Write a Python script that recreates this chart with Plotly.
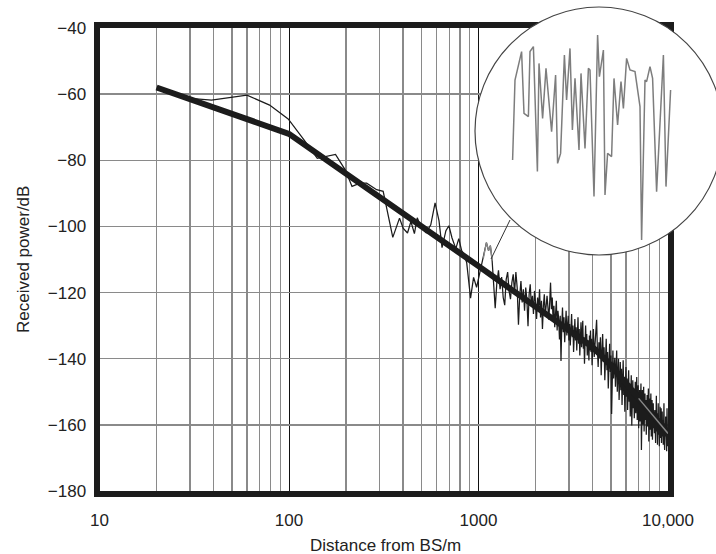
import plotly.graph_objects as go

# ---------------- data ----------------
# measured received power, near region (distance in m, power in dB)
near_dist = [20, 29, 39, 60, 79, 99, 120, 141, 176, 198, 215, 237, 257, 290, 314,
             353, 383, 400, 422, 440, 459, 475, 500, 529, 560, 590, 619, 642, 673,
             698, 725, 759, 787, 815, 840, 866, 908, 942, 977, 1023, 1062, 1101,
             1130, 1155, 1180, 1200]
near_db = [-58.5, -61.2, -61.8, -60.3, -63.3, -67.5, -73.8, -79.4, -78.2, -82.9,
           -87.9, -86.9, -86.9, -88.9, -89.4, -103.3, -97.5, -100.5, -102.0, -98.5,
           -102.2, -97.4, -100.5, -101.9, -99.5, -92.9, -98.3, -106.4, -101.3, -99.8,
           -103.5, -106.7, -103.7, -107.3, -108.5, -110.9, -121.7, -115.4, -118.4,
           -113.3, -109.5, -104.9, -107.3, -105.8, -110.3, -117.0]

# measured received power, 1225 m to 4000 m (25 m sample spacing)
far_dist_a = list(range(1225, 4001, 25))
far_db_a = [
    -124.7, -117.0, -113.3, -119.0, -115.3, -121.5, -123.8, -116.0, -113.8, -119.5,
    -122.0, -117.0, -114.5, -120.0, -113.8, -118.5, -129.7, -121.0, -116.5, -123.0,
    -119.0, -125.5, -118.5, -122.0, -130.2, -120.5, -117.5, -124.0, -121.0, -126.5,
    -119.5, -123.0, -128.0, -121.5, -125.0, -119.0, -127.5, -122.5, -131.0, -124.0,
    -120.5, -127.0, -122.0, -121.0, -124.5, -128.2, -123.0, -117.0, -125.0, -121.5,
    -128.5, -124.0, -130.5, -126.0, -122.5, -131.5, -125.5, -128.0, -134.2, -127.0,
    -140.7, -130.0, -124.5, -132.0, -127.5, -135.0, -129.0, -125.5, -133.0, -130.0,
    -127.0, -134.5, -129.5, -136.0, -131.0, -126.5, -133.5, -130.0, -138.0, -131.5,
    -128.0, -134.5, -130.5, -137.5, -132.0, -127.5, -135.5, -131.0, -139.0, -133.0,
    -129.0, -136.5, -132.0, -128.5, -137.0, -133.5, -141.5, -134.0, -130.0, -136.0,
    -132.5, -139.0, -134.5, -135.0, -140.5, -133.0, -137.5, -131.5, -138.0, -134.0,
    -142.0, -136.0]

# measured received power, 4040 m to 10000 m (40 m sample spacing)
far_dist_b = list(range(4040, 10001, 40))
far_db_b = [
    -131.0, -139.5, -134.0, -130.5, -128.2, -137.0, -142.5, -135.0, -139.0, -133.5,
    -145.0, -137.5, -132.5, -141.0, -136.5, -146.5, -139.0, -134.0, -143.5, -138.0,
    -149.0, -140.5, -135.5, -144.0, -139.0, -156.7, -143.5, -137.5, -146.0, -141.0,
    -139.7, -148.5, -143.0, -137.5, -150.0, -144.5, -140.0, -152.5, -146.0, -141.0,
    -149.5, -143.0, -154.0, -147.0, -140.5, -151.0, -145.5, -156.0, -148.0, -142.5,
    -151.5, -146.0, -155.5, -149.0, -143.5, -153.0, -147.5, -157.5, -150.5, -145.0,
    -160.2, -151.0, -146.5, -155.0, -149.0, -158.0, -152.5, -147.0, -156.5, -150.5,
    -145.5, -158.5, -153.0, -148.0, -161.0, -154.0, -149.5, -159.0, -152.0, -147.5,
    -167.6, -155.0, -149.5, -160.0, -153.5, -148.5, -162.0, -156.0, -150.5, -158.5,
    -152.5, -163.0, -156.5, -151.0, -160.5, -154.5, -149.0, -165.0, -157.5, -152.0,
    -161.5, -155.0, -150.5, -163.5, -157.0, -152.5, -164.5, -158.5, -153.5, -161.0,
    -156.0, -162.5, -155.5, -160.0, -165.5, -157.0, -151.2, -162.0, -156.5, -166.0,
    -159.0, -153.5, -163.0, -158.0, -166.5, -160.5, -154.5, -164.0, -159.0, -155.0,
    -165.5, -160.0, -156.0, -163.5, -158.5, -166.0, -161.0, -153.5, -164.5, -167.6,
    -159.5, -163.5, -157.5, -166.0, -161.0, -168.0, -155.0, -158.0, -166.5, -163.0]

# path-loss model (thick line)
model_dist = [20, 100, 1000, 2000, 3000, 4000, 5000, 6000, 7000, 8000, 9000, 10000]
model_db = [-58.0, -72.0, -112.0, -124.0, -131.0, -136.5, -142.0, -147.5, -152.0,
            -156.0, -159.5, -162.6]

# magnified detail shown in the circular inset (distance m, power dB)
inset_dist = [1098.8, 1100.0, 1103.3, 1104.5, 1106.7, 1107.5, 1109.2, 1111.2, 1112.0,
              1113.8, 1115.5, 1118.3, 1120.3, 1121.3, 1122.8, 1124.7, 1125.8, 1127.5,
              1128.7, 1130.0, 1132.0, 1133.0, 1135.0, 1136.7, 1137.5, 1139.5, 1141.3,
              1142.2, 1144.2, 1145.0, 1146.3, 1148.3, 1149.5, 1151.3, 1153.0, 1154.2,
              1155.8, 1157.5, 1160.0, 1162.5, 1163.3, 1165.0, 1165.8, 1167.5, 1168.8,
              1170.8, 1174.2, 1175.5, 1177.8]
inset_db = [-107.65, -103.65, -102.23, -105.32, -105.48, -102.23, -101.98, -108.23,
            -102.82, -105.57, -103.07, -106.23, -103.40, -107.82, -107.32, -102.40,
            -104.65, -102.07, -106.15, -103.57, -107.15, -103.32, -107.07, -103.07,
            -103.15, -109.48, -101.40, -103.48, -102.15, -109.40, -107.32, -107.48,
            -103.57, -105.90, -103.73, -105.07, -102.57, -103.15, -103.23, -104.98,
            -111.65, -103.65, -103.73, -102.98, -103.57, -109.23, -102.40, -108.98,
            -104.15]

x_tick_vals = [10, 100, 1000, 10000]
x_tick_text = ["10", "100", "1000", "10,000"]
y_tick_vals = [-40, -60, -80, -100, -120, -140, -160, -180]

# ---------------- figure ----------------
W, H = 716, 554
BLACK = "#1c1c1c"
GRAY = "#8a8a8a"

meas_dist = near_dist + far_dist_a + far_dist_b
meas_db = near_db + far_db_a + far_db_b

# section of the measurement that is magnified (drawn grey)
mag_dist = [d for d in near_dist if 1062 <= d <= 1180]
mag_db = [p for d, p in zip(near_dist, near_db) if 1062 <= d <= 1180]

tail_dist = [d for d in model_dist if d >= 7000]
tail_db = [p for d, p in zip(model_dist, model_db) if d >= 7000]

minor_vals = [m * 10 ** e for e in range(1, 4) for m in range(2, 10)]

fig = go.Figure()
fig.add_trace(go.Scatter(x=meas_dist, y=meas_db, mode="lines",
                         line=dict(color=BLACK, width=1.25), hoverinfo="skip"))
fig.add_trace(go.Scatter(x=model_dist, y=model_db, mode="lines",
                         line=dict(color=BLACK, width=6), hoverinfo="skip"))
fig.add_trace(go.Scatter(x=mag_dist, y=mag_db, mode="lines",
                         line=dict(color=GRAY, width=1.3), hoverinfo="skip"))
fig.add_trace(go.Scatter(x=tail_dist, y=tail_db, mode="lines",
                         line=dict(color=GRAY, width=1.4), hoverinfo="skip"))
fig.add_trace(go.Scatter(x=inset_dist, y=inset_db, mode="lines", xaxis="x2", yaxis="y2",
                         line=dict(color="#7d7d7d", width=1.5), hoverinfo="skip"))

fig.update_layout(
    width=W, height=H,
    margin=dict(l=0, r=0, t=0, b=0, autoexpand=False),
    paper_bgcolor="white", plot_bgcolor="rgba(0,0,0,0)",
    showlegend=False,
    font=dict(family="Liberation Sans, Arial, sans-serif", size=17, color="#222222"),
    xaxis=dict(type="log", range=[1, 4], domain=[99.5 / W, 668 / W], anchor="y",
               automargin=False,
               tickmode="array", tickvals=x_tick_vals, ticktext=x_tick_text, ticks="",
               showgrid=True, gridcolor="#111111", gridwidth=1,
               minor=dict(tickmode="array", tickvals=minor_vals, showgrid=True,
                          gridcolor=GRAY, gridwidth=1.3, ticks=""),
               showline=True, linecolor=BLACK, linewidth=6, mirror=True,
               zeroline=False, ticklabelstandoff=9),
    yaxis=dict(range=[-180, -40], domain=[1 - 491 / H, 1 - 28 / H], anchor="x",
               automargin=False,
               tickmode="array", tickvals=y_tick_vals, ticks="",
               showgrid=True, gridcolor=GRAY, gridwidth=1.3,
               showline=True, linecolor=BLACK, linewidth=6, mirror=True,
               zeroline=False, ticklabelstandoff=4),
    xaxis2=dict(domain=[470 / W, 1], range=[1077.5, 1200.5], visible=False, anchor="y2",
                automargin=False),
    yaxis2=dict(domain=[1 - 258 / H, 1 - 4 / H], range=[-112.55, -99.85], visible=False,
                anchor="x2", automargin=False),
    shapes=[
        dict(type="circle", xref="x2", yref="y2", x0=1080, x1=1204, y0=-112.4, y1=-100.0,
             fillcolor="white", line=dict(color="#444444", width=1.2), layer="below"),
        dict(type="line", xref="paper", yref="paper", x0=510 / W, y0=1 - 220 / H,
             x1=491 / W, y1=1 - 259 / H, line=dict(color="#333333", width=1), layer="above"),
    ],
    annotations=[
        dict(text="Distance from BS/m", xref="paper", yref="paper", x=385 / W,
             y=1 - 545 / H, showarrow=False, xanchor="center", yanchor="middle",
             font=dict(size=17)),
        dict(text="Received power/dB", xref="paper", yref="paper", x=23 / W,
             y=1 - 260 / H, showarrow=False, xanchor="center", yanchor="middle",
             textangle=-90, font=dict(size=17)),
    ],
)

fig.write_html("out.html",
               config={"displayModeBar": False, "staticPlot": True},
               post_script="document.body.style.margin='0';"
                           "document.body.style.overflow='hidden';")
